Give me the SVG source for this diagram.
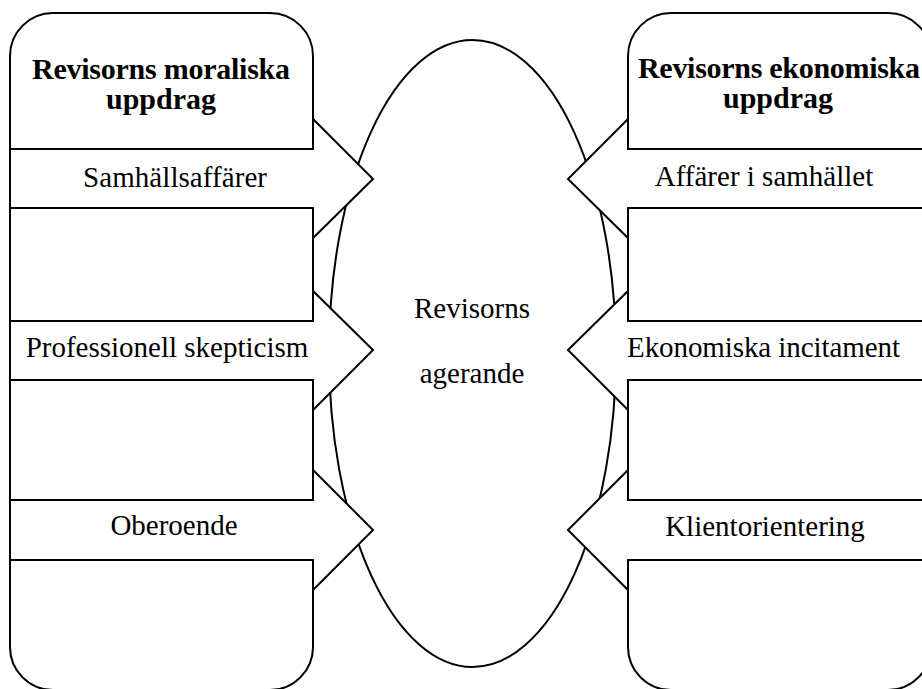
<svg xmlns="http://www.w3.org/2000/svg" width="922" height="689" viewBox="0 0 922 689">
  <style>
    .shape { fill: #ffffff; stroke: #000000; stroke-width: 2; stroke-linejoin: miter; }
    .title { font-family: "Liberation Serif", "Times New Roman", serif; font-size: 30px; font-weight: bold; fill: #000000; }
    .label { font-family: "Liberation Serif", "Times New Roman", serif; font-size: 29px; fill: #000000; }
    .mid { text-anchor: middle; }
  </style>

  <rect width="922" height="689" fill="#ffffff"/>

  <!-- Left panel: moral mandate -->
  <g id="panel-moral">
    <rect class="shape" x="10" y="13" width="303" height="677" rx="43" ry="43"/>
    <text class="title" x="32" y="79" textLength="258" lengthAdjust="spacing">Revisorns moraliska</text>
    <text class="title mid" x="161" y="109">uppdrag</text>
  </g>

  <!-- Right panel: economic mandate -->
  <g id="panel-economic">
    <rect class="shape" x="628" y="13" width="303" height="677" rx="43" ry="43"/>
    <text class="title" x="638" y="78" textLength="282" lengthAdjust="spacing">Revisorns ekonomiska</text>
    <text class="title mid" x="778" y="108">uppdrag</text>
  </g>

  <!-- Central ellipse -->
  <g id="centre-actions">
    <ellipse class="shape" cx="472.5" cy="353.5" rx="143.5" ry="313.5"/>
    <text class="label mid" x="472" y="318">Revisorns</text>
    <text class="label mid" x="472" y="383">agerande</text>
  </g>

  <!-- Block arrows feeding into the centre -->
  <g id="connectors">
    <g id="arrow-samhallsaffarer">
      <polygon class="shape" points="10,149 313,149 313,119 373,179 313,238 313,208 10,208"/>
      <text class="label" x="83" y="187" textLength="184" lengthAdjust="spacing">Samhällsaffärer</text>
    </g>
    <g id="arrow-skepticism">
      <polygon class="shape" points="10,321 313,321 313,291 373,350 313,410 313,380 10,380"/>
      <text class="label mid" x="167" y="357">Professionell skepticism</text>
    </g>
    <g id="arrow-oberoende">
      <polygon class="shape" points="10,500 313,500 313,470 373,530 313,590 313,560 10,560"/>
      <text class="label mid" x="174" y="535">Oberoende</text>
    </g>
    <g id="arrow-affarer">
      <polygon class="shape" points="931,149 628,149 628,119 568,179 628,238 628,208 931,208"/>
      <text class="label mid" x="764" y="186">Affärer i samhället</text>
    </g>
    <g id="arrow-incitament">
      <polygon class="shape" points="931,321 628,321 628,291 568,350 628,410 628,380 931,380"/>
      <text class="label" x="627" y="357" textLength="273" lengthAdjust="spacing">Ekonomiska  incitament</text>
    </g>
    <g id="arrow-klient">
      <polygon class="shape" points="931,500 628,500 628,470 568,530 628,590 628,560 931,560"/>
      <text class="label mid" x="765" y="536">Klientorientering</text>
    </g>
  </g>
</svg>
